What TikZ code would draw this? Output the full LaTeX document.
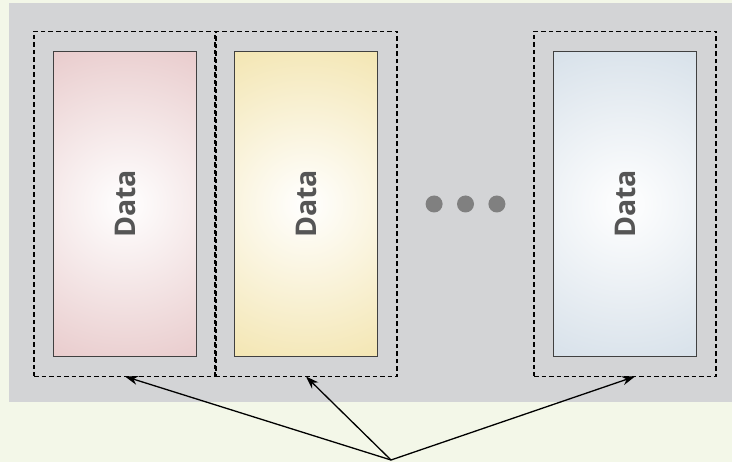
\documentclass[tikz,border=0pt]{standalone}
\usepackage{fontspec}
\setsansfont{Open Sans}
\usetikzlibrary{arrows,arrows.meta,positioning,shapes,calc}

\definecolor{bgc}{HTML}{F3F7E8}
\definecolor{panelc}{HTML}{D3D4D6}
\definecolor{pinkc}{HTML}{E8CACB}
\definecolor{yellowc}{HTML}{F3E5B0}
\definecolor{bluec}{HTML}{D6E0E9}
\definecolor{textc}{HTML}{555555}
\definecolor{dotc}{HTML}{808080}

\tikzset{
    data/.style={draw=black!75, line width=1.6pt, outer sep=0pt, inner sep=0pt,
        minimum width=143pt, minimum height=305pt,
        preaction={fill=#1, path picture={\shade[inner color=white, outer color=#1]
            (path picture bounding box.center) circle (175pt);}},
        font=\sffamily\bfseries\fontsize{28.5}{28.5}\selectfont, text=textc},
    wrap/.style={draw=black, line width=1.2pt, dash pattern=on 4.5pt off 3pt,
        minimum width=182pt, minimum height=345pt, inner sep=0pt, outer sep=0pt},
    dot/.style={circle, fill=dotc, minimum size=17pt, inner sep=0pt},
    link/.style={-{Stealth[length=13pt,width=9pt]}, line width=1.3pt, black}
}

\begin{document}
\begin{tikzpicture}[x=1pt, y=-1pt]
\useasboundingbox (0,0) rectangle (732,462);
\fill[bgc] (0,0) rectangle (732,462);
\fill[panelc] (9,3) rectangle (732,402);

\node[data=pinkc] (d1) at (125,204) {\rotatebox{90}{Data}};
\node[data=yellowc] (d2) [right=38pt of d1] {\rotatebox{90}{Data}};
\node[data=bluec] (d3) [right=176pt of d2] {\rotatebox{90}{Data}};

\node[wrap] (b1) at (d1) {};
\node[wrap] (b2) at (d2) {};
\node[wrap] (b3) at (d3) {};

\node[dot] (p2) at ($(d2.east)!0.5!(d3.west)$) {};
\node[dot] (p1) [left=14pt of p2] {};
\node[dot] (p3) [right=14pt of p2] {};

\coordinate (hub) at (391,460);
\draw[link] (hub) -- (b1.south);
\draw[link] (hub) -- (b2.south);
\draw[link] (hub) -- ([xshift=10pt]b3.south);
\end{tikzpicture}
\end{document}
